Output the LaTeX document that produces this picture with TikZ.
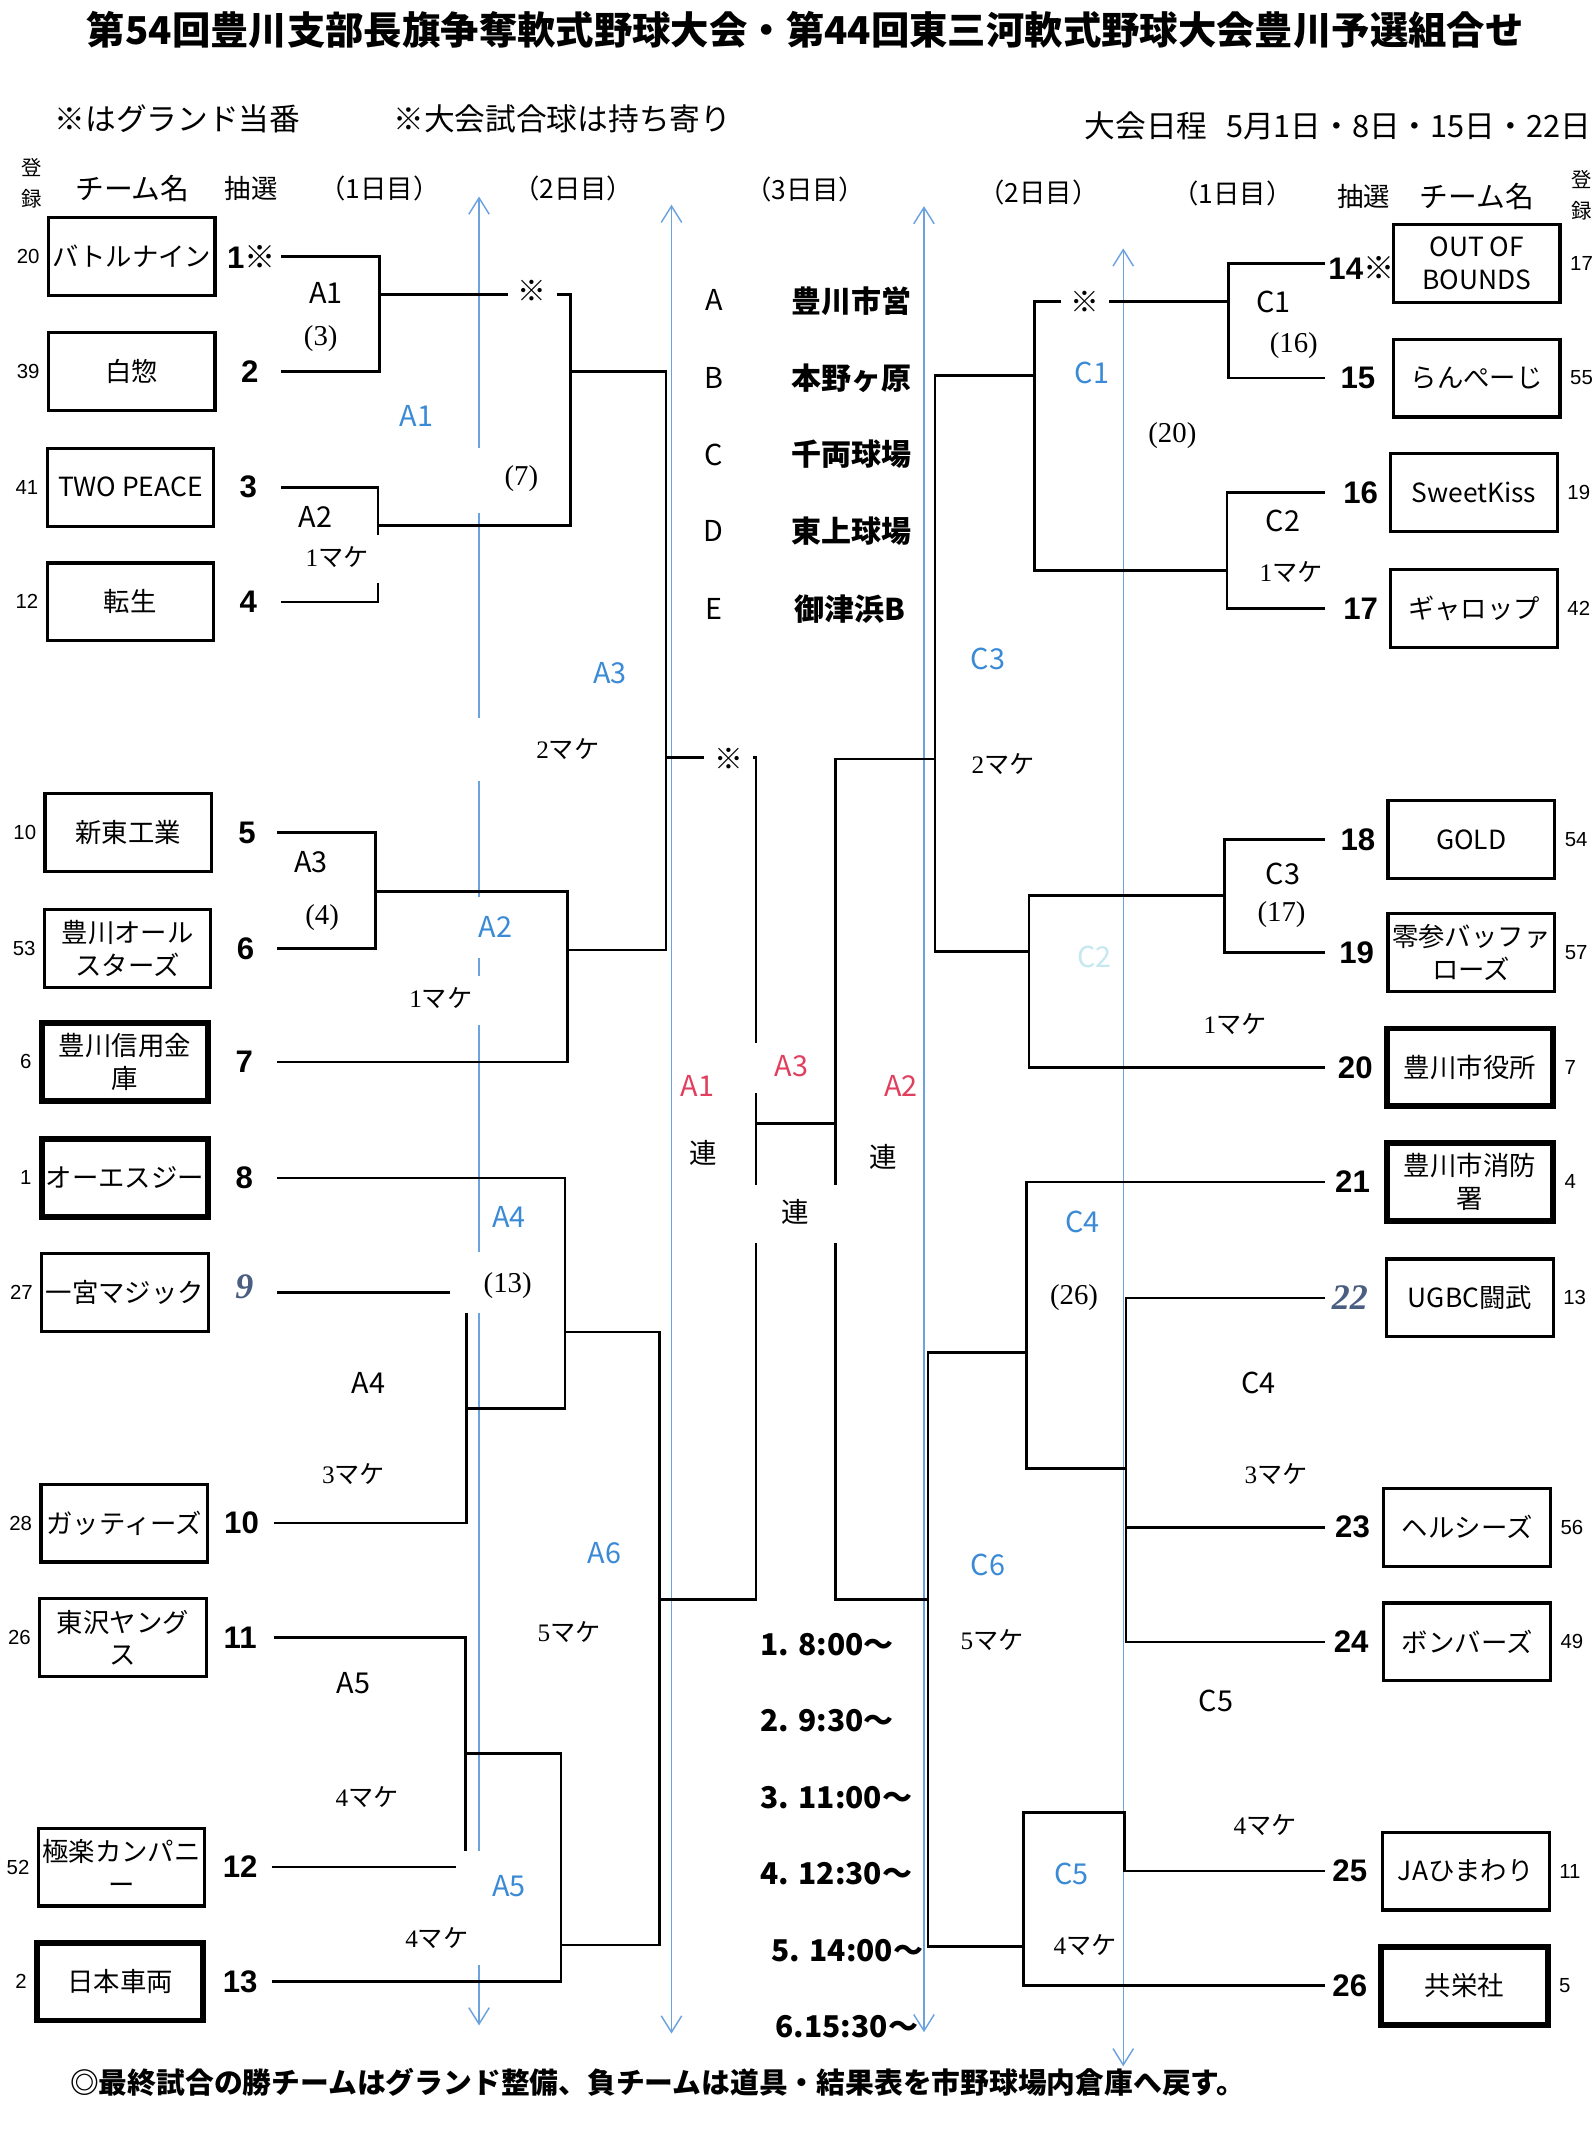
\documentclass[tikz,border=0pt]{standalone}
\usepackage{fontspec}
\setmainfont{Noto Sans CJK JP}
\newfontfamily\numfont{Liberation Sans}
\newfontfamily\gamefont{Liberation Serif}
\usetikzlibrary{positioning, calc, arrows.meta}

\definecolor{laneblue}{RGB}{108,162,222}
\definecolor{tagblue}{RGB}{58,138,214}
\definecolor{tagred}{RGB}{224,64,94}
\definecolor{paleblue}{RGB}{198,232,240}
\definecolor{inkblue}{RGB}{74,94,130}

% loser tag: serif digit + kana
\newcommand{\loser}[1]{{\gamefont #1}マケ}

\begin{document}
\begin{tikzpicture}[
  x=0.2mm, y=-0.2mm,
  >={Straight Barb[length=2.4mm, width=3mm]},
  bracket/.style={line width=1.1pt},
  lane/.style={draw=laneblue, line width=0.6pt},
  team/.style={
    draw,
    line width=1.3pt,
    minimum width=24.4mm,
    minimum height=11.4mm,
    inner sep=1pt,
    align=center,
    font=\fontsize{11}{13.5}\selectfont,
  },
  teamx/.style={team, line width=2.4pt},
  drawno/.style={inner sep=0pt, font=\numfont\bfseries\fontsize{13}{13}\selectfont},
  handno/.style={inner sep=0pt, text=inkblue, font=\gamefont\bfseries\itshape\fontsize{15}{15}\selectfont},
  regno/.style={inner sep=0pt, font=\numfont\fontsize{8.5}{8.5}\selectfont},
  reghead/.style={inner sep=0pt, align=center, font=\fontsize{8.5}{13}\selectfont},
  colhead/.style={inner sep=0pt, font=\fontsize{11}{11}\selectfont},
  dayhead/.style={inner sep=0pt, font=\fontsize{11}{11}\selectfont},
  note/.style={inner sep=0pt, font=\fontsize{12.8}{12.8}\selectfont},
  match/.style={inner sep=0pt, font=\fontsize{12}{12}\selectfont},
  bluetag/.style={match, text=tagblue},
  redtag/.style={match, text=tagred},
  game/.style={inner sep=0pt, font=\gamefont\fontsize{12}{12}\selectfont},
  losetag/.style={inner sep=0pt, font=\fontsize{10.5}{10.5}\selectfont},
  kome/.style={inner sep=4pt, font=\bfseries\fontsize{12}{12}\selectfont},
  venueid/.style={inner sep=0pt, font=\fontsize{12}{12}\selectfont},
  venue/.style={inner sep=0pt, font=\bfseries\fontsize{12.5}{12.5}\selectfont},
  slot/.style={inner sep=0pt, anchor=west, font=\bfseries\fontsize{12.5}{12.5}\selectfont},
]
\useasboundingbox (0,0) rectangle (1169,1568);
\fill[white] (0,0) rectangle (1169,1568);

% --- Headings ---
\node[font=\bfseries\fontsize{16}{16}\selectfont] (title) at (590,22)
  {第54回豊川支部長旗争奪軟式野球大会・第44回東三河軟式野球大会豊川予選組合せ};
\node[note] (duty) at (130,87) {※はグランド当番};
\node[note] (balls) at (412,87) {※大会試合球は持ち寄り};
\node[note, anchor=east] (dates) at (1166,92) {大会日程\hspace{0.6em}5月1日・8日・15日・22日};

\node[reghead] (regL) at (23,134) {登\\録};
\node[colhead, font=\fontsize{12}{12}\selectfont] (nameL) at (97,138) {チーム名};
\node[colhead] (drawL) at (184,138) {抽選};
\node[dayhead] (day1L) at (278,138) {（1日目）};
\node[dayhead] (day2L) at (420,138) {（2日目）};
\node[dayhead] (day3) at (590,139) {（3日目）};
\node[dayhead] (day2R) at (761,141) {（2日目）};
\node[dayhead] (day1R) at (903,142) {（1日目）};
\node[colhead] (drawR) at (999,144) {抽選};
\node[colhead, font=\fontsize{12}{12}\selectfont] (nameR) at (1082,144) {チーム名};
\node[reghead] (regR) at (1159,143) {登\\録};

% --- Lanes (day columns) ---
\coordinate (L1t) at (351,144);
\coordinate (L1b) at (351,1484);
\coordinate (L2t) at (492,150);
\coordinate (L2b) at (492,1490);
\coordinate (L3t) at (677,151);
\coordinate (L3b) at (677,1489);
\coordinate (L4t) at (823,182);
\coordinate (L4b) at (823,1514);
\draw[lane, <-] (L1t) -- (351,328);
\draw[lane] (351,376) -- (351,526) (351,572) -- (351,657) (351,702) -- (351,715)
  (351,751) -- (351,917) (351,962) -- (351,1356);
\draw[lane, ->] (351,1440) -- (L1b);
\draw[lane, <->] (L2t) -- (L2b);
\draw[lane, <->] (L3t) -- (L3b);
\draw[lane, <->] (L4t) -- (L4b);

% --- Teams, left ---
\node[team] (t1) at (96.5,188) {バトルナイン};
\node[team] (t2) at (96.5,272) {白惣};
\node[team] (t3) at (95.5,357) {TWO PEACE};
\node[team] (t4) at (95.5,441) {転生};
\node[team] (t5) at (94,610) {新東工業};
\node[team] (t6) at (93.5,695) {豊川オール\\スターズ};
\node[teamx] (t7) at (91.5,778) {豊川信用金\\庫};
\node[teamx] (t8) at (91.5,863) {オーエスジー};
\node[team] (t9) at (91.5,947) {一宮マジック};
\node[team] (t10) at (91,1116) {ガッティーズ};
\node[team] (t11) at (90,1200) {東沢ヤング\\ス};
\node[team] (t12) at (89,1368) {極楽カンパニ\\ー};
\node[teamx] (t13) at (88,1452) {日本車両};

\node[regno, left=1mm of t1] (r1) {20};
\node[regno, left=1mm of t2] (r2) {39};
\node[regno, left=1mm of t3] (r3) {41};
\node[regno, left=1mm of t4] (r4) {12};
\node[regno, left=1mm of t5] (r5) {10};
\node[regno, left=1mm of t6] (r6) {53};
\node[regno, left=1mm of t7] (r7) {6};
\node[regno, left=1mm of t8] (r8) {1};
\node[regno, left=1mm of t9] (r9) {27};
\node[regno, left=1mm of t10] (r10) {28};
\node[regno, left=1mm of t11] (r11) {26};
\node[regno, left=1mm of t12] (r12) {52};
\node[regno, left=1mm of t13] (r13) {2};

\node[drawno, anchor=west] (n1) at (166,188) {1{\normalfont\bfseries ※}};
\node[drawno] (n2) at (183,272) {2};
\node[drawno] (n3) at (182,357) {3};
\node[drawno] (n4) at (182,441) {4};
\node[drawno] (n5) at (181,610) {5};
\node[drawno] (n6) at (180,695) {6};
\node[drawno] (n7) at (179,778) {7};
\node[drawno] (n8) at (179,863) {8};
\node[handno] (n9) at (179,943) {9};
\node[drawno] (n10) at (177,1116) {10};
\node[drawno] (n11) at (176,1200) {11};
\node[drawno] (n12) at (176,1368) {12};
\node[drawno] (n13) at (176,1452) {13};

% --- Teams, right ---
\node[team] (t14) at (1082,193) {OUT OF\\BOUNDS};
\node[team] (t15) at (1082,277) {らんぺーじ};
\node[team] (t16) at (1080,361) {SweetKiss};
\node[team] (t17) at (1080,446) {ギャロップ};
\node[team] (t18) at (1078,615) {GOLD};
\node[team] (t19) at (1078,698) {零参バッファ\\ローズ};
\node[teamx] (t20) at (1077,782) {豊川市役所};
\node[teamx] (t21) at (1077,866) {豊川市消防\\署};
\node[team] (t22) at (1077,951) {UGBC闘武};
\node[team] (t23) at (1075,1119) {ヘルシーズ};
\node[team] (t24) at (1075,1203) {ボンバーズ};
\node[team] (t25) at (1074,1371) {JAひまわり};
\node[teamx] (t26) at (1073,1455) {共栄社};

\node[regno, right=1.2mm of t14] (r14) {17};
\node[regno, right=1.2mm of t15] (r15) {55};
\node[regno, right=1.2mm of t16] (r16) {19};
\node[regno, right=1.2mm of t17] (r17) {42};
\node[regno, right=1.2mm of t18] (r18) {54};
\node[regno, right=1.2mm of t19] (r19) {57};
\node[regno, right=1.2mm of t20] (r20) {7};
\node[regno, right=1.2mm of t21] (r21) {4};
\node[regno, right=1.2mm of t22] (r22) {13};
\node[regno, right=1.2mm of t23] (r23) {56};
\node[regno, right=1.2mm of t24] (r24) {49};
\node[regno, right=1.2mm of t25] (r25) {11};
\node[regno, right=1.2mm of t26] (r26) {5};

\node[drawno, anchor=west] (n14) at (973,196) {14{\normalfont\bfseries ※}};
\node[drawno] (n15) at (995,277) {15};
\node[drawno] (n16) at (997,361) {16};
\node[drawno] (n17) at (997,446) {17};
\node[drawno] (n18) at (995,615) {18};
\node[drawno] (n19) at (994,698) {19};
\node[drawno] (n20) at (993,782) {20};
\node[drawno] (n21) at (991,866) {21};
\node[handno] (n22) at (989,951) {22};
\node[drawno] (n23) at (991,1119) {23};
\node[drawno] (n24) at (990,1203) {24};
\node[drawno] (n25) at (989,1371) {25};
\node[drawno] (n26) at (989,1455) {26};

% --- Line ends beside the draw numbers ---
\coordinate (s1) at (206,188);
\coordinate (s2) at (206,272);
\coordinate (s3) at (206,357);
\coordinate (s4) at (206,441);
\coordinate (s5) at (203,610);
\coordinate (s6) at (203,695);
\coordinate (s7) at (203,778);
\coordinate (s8) at (203,863);
\coordinate (s9) at (203,947);
\coordinate (s10) at (201,1116);
\coordinate (s11) at (201,1200);
\coordinate (s12) at (199,1368);
\coordinate (s13) at (199,1452);
\coordinate (s14) at (971,193);
\coordinate (s15) at (971,277);
\coordinate (s16) at (971,361);
\coordinate (s17) at (971,446);
\coordinate (s18) at (971,615);
\coordinate (s19) at (971,698);
\coordinate (s20) at (971,782);
\coordinate (s21) at (971,866);
\coordinate (s22) at (971,951);
\coordinate (s23) at (971,1119);
\coordinate (s24) at (971,1203);
\coordinate (s25) at (971,1371);
\coordinate (s26) at (971,1455);

% winners' points
\coordinate (LA1) at (278,216);
\coordinate (LA2) at (277,385);
\coordinate (LA3) at (275,653);
\coordinate (LA4) at (342,1032);
\coordinate (LA5) at (341,1285);
\coordinate (LB1) at (418,272);
\coordinate (LB2) at (416,696);
\coordinate (LB3) at (414,976);
\coordinate (LB4) at (411,1425);
\coordinate (LC1) at (488,555);
\coordinate (LC2) at (483,1172);
\coordinate (LF) at (554,823);
\coordinate (RC1) at (900,221);
\coordinate (RC2) at (899,418);
\coordinate (RC3) at (897,656);
\coordinate (RC4) at (825,1076);
\coordinate (RC5) at (824,1328);
\coordinate (RB1) at (758,275);
\coordinate (RB2) at (754,697);
\coordinate (RB3) at (752,991);
\coordinate (RB4) at (750,1426);
\coordinate (RD1) at (685,556);
\coordinate (RD2) at (680,1172);
\coordinate (RF) at (612,823);

% ground-duty marks
\node[kome] (k1) at (390,213) {※};
\node[kome] (k2) at (534,556) {※};
\node[kome] (k3) at (795,221) {※};

% --- Bracket, A side ---
\draw[bracket] (s1) -| (LA1) |- (s2);
\draw[bracket] (LA1) -- (LA1 -| k1.west);
\draw[bracket] (k1.east |- LA1) -| (LB1) |- (LA2);
\draw[bracket] (s3) -| ($(LA2)+(0,7)$);
\draw[bracket] ($(LA2)+(0,42)$) |- (s4);
\draw[bracket] (LB1) -| (LC1) |- (LB2);
\draw[bracket] (s5) -| (LA3) |- (s6);
\draw[bracket] (LA3) -| (LB2) |- (s7);
\draw[bracket] (LC1) -- (LC1 -| k2.west);
\draw[bracket] (k2.east |- LC1) -| ($(LF)+(0,-59)$);
\draw[bracket] ($(LF)+(0,-22)$) -- ($(LF)+(0,45)$);
\draw[bracket] (LF) -- (RF);
\draw[bracket] ($(LF)+(0,88)$) |- (LC2);
\draw[bracket] (s8) -| (LB3) |- (LA4);
\draw[bracket] (s9) -- ++(127,0);
\draw[bracket] ($(LA4)+(0,-70)$) |- (s10);
\draw[bracket] (LB3) -| (LC2) |- (LB4);
\draw[bracket] (s11) -| ($(LA5)+(0,71)$);
\draw[bracket] (s12) -- ++(135,0);
\draw[bracket] (LA5) -| (LB4) |- (s13);

% --- Bracket, C side ---
\draw[bracket] (s14) -| (RC1) |- (s15);
\draw[bracket] (RC1) -- (RC1 -| k3.east);
\draw[bracket] (k3.west |- RC1) -| (RB1) |- (RC2);
\draw[bracket] (s16) -| (RC2) |- (s17);
\draw[bracket] (RB1) -| (RD1) |- (RB2);
\draw[bracket] (s18) -| (RC3) |- (s19);
\draw[bracket] (RC3) -| (RB2) |- (s20);
\draw[bracket] (RD1) -| ($(RF)+(0,45)$);
\draw[bracket] ($(RF)+(0,88)$) |- (RD2);
\draw[bracket] (s21) -| (RB3) |- (RC4);
\draw[bracket] (s22) -| (RC4) |- (s24);
\draw[bracket] (s23) -- (s23 -| RC4);
\draw[bracket] (RB3) -| (RD2) |- (RB4);
\draw[bracket] (s25) -| (RC5) -- (RC5 -| RB4) |- (s26);

% --- Match labels ---
\node[match] (mA1) at (239,215) {A1};
\node[match] (mA2) at (231,379) {A2};
\node[match] (mA3) at (228,632) {A3};
\node[match] (mA4) at (270,1013) {A4};
\node[match] (mA5) at (259,1233) {A5};
\node[match] (mC1) at (933,221) {C1};
\node[match] (mC2) at (940,382) {C2};
\node[match] (mC3) at (940,640) {C3};
\node[match] (mC4) at (922,1013) {C4};
\node[match] (mC5) at (891,1246) {C5};

\node[game] (g3) at (235,248) {(3)};
\node[game] (g7) at (382,351) {(7)};
\node[game] (g4) at (236,672) {(4)};
\node[game] (g13) at (372,942) {(13)};
\node[game] (g16) at (948,253) {(16)};
\node[game] (g20) at (859,319) {(20)};
\node[game] (g17) at (939,670) {(17)};
\node[game] (g26) at (787,951) {(26)};

\node[losetag] (x1) at (247,408) {\loser{1}};
\node[losetag] (x2) at (323,731) {\loser{1}};
\node[losetag] (x3) at (416,549) {\loser{2}};
\node[losetag] (x4) at (259,1080) {\loser{3}};
\node[losetag] (x5) at (269,1317) {\loser{4}};
\node[losetag] (x6) at (320,1420) {\loser{4}};
\node[losetag] (x7) at (417,1196) {\loser{5}};
\node[losetag] (x8) at (946,419) {\loser{1}};
\node[losetag] (x9) at (735,560) {\loser{2}};
\node[losetag] (x10) at (905,750) {\loser{1}};
\node[losetag] (x11) at (935,1080) {\loser{3}};
\node[losetag] (x12) at (927,1337) {\loser{4}};
\node[losetag] (x13) at (795,1425) {\loser{4}};
\node[losetag] (x14) at (727,1202) {\loser{5}};

\node[bluetag] (bA1) at (305,305) {A1};
\node[bluetag] (bA3) at (447,493) {A3};
\node[bluetag] (bA2) at (363,679) {A2};
\node[bluetag] (bA4) at (373,892) {A4};
\node[bluetag] (bA6) at (443,1138) {A6};
\node[bluetag] (bA5) at (373,1382) {A5};
\node[bluetag] (bC1) at (800,273) {C1};
\node[bluetag] (bC3) at (724,483) {C3};
\node[bluetag, text=paleblue] (bC2) at (802,701) {C2};
\node[bluetag] (bC4) at (793,895) {C4};
\node[bluetag] (bC6) at (724,1147) {C6};
\node[bluetag] (bC5) at (785,1373) {C5};

\node[redtag] (rA1) at (511,796) {A1};
\node[redtag] (rA3) at (580,781) {A3};
\node[redtag] (rA2) at (660,796) {A2};
\node[losetag, font=\fontsize{11.5}{11.5}\selectfont] (ren1) at (515,845) {連};
\node[losetag, font=\fontsize{11.5}{11.5}\selectfont] (ren3) at (583,888) {連};
\node[losetag, font=\fontsize{11.5}{11.5}\selectfont] (ren2) at (647,848) {連};

% --- Grounds ---
\node[venueid] (vA) at (523,220) {A};
\node[venueid] (vB) at (523,277) {B};
\node[venueid] (vC) at (523,333) {C};
\node[venueid] (vD) at (523,389) {D};
\node[venueid] (vE) at (523,446) {E};
\node[venue] (gA) at (624,221) {豊川市営};
\node[venue] (gB) at (624,277) {本野ヶ原};
\node[venue] (gC) at (624,333) {千両球場};
\node[venue] (gD) at (624,389) {東上球場};
\node[venue] (gE) at (623,446) {御津浜B};

% --- Start times ---
\node[slot] (h1) at (557,1205) {1. 8:00～};
\node[slot] (h2) at (557,1261) {2. 9:30～};
\node[slot] (h3) at (557,1317) {3. 11:00～};
\node[slot] (h4) at (557,1373) {4. 12:30～};
\node[slot] (h5) at (565,1429) {5. 14:00～};
\node[slot] (h6) at (568,1485) {6.15:30～};

% --- Footer ---
\node[inner sep=0pt, anchor=east, font=\bfseries\fontsize{12}{12}\selectfont] (rule) at (913,1526)
  {◎最終試合の勝チームはグランド整備、負チームは道具・結果表を市野球場内倉庫へ戻す。};
\end{tikzpicture}
\end{document}
